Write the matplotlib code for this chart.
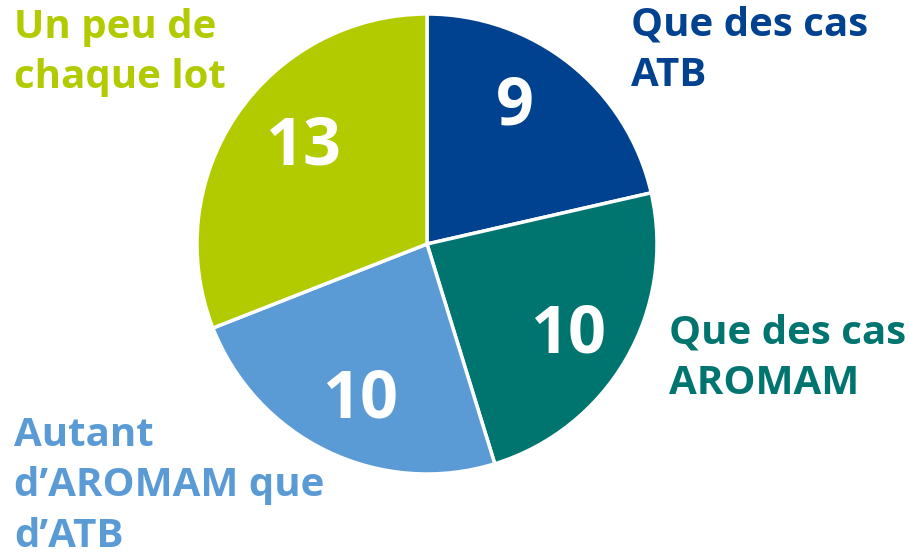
import matplotlib.pyplot as plt

# DATA
values = [9, 10, 10, 13]
categories = ["Que des cas\nATB", "Que des cas\nAROMAM",
              "Autant\nd\u2019AROMAM que\nd\u2019ATB", "Un peu de\nchaque lot"]
colors = ["#00428F", "#00756F", "#5B9BD5", "#B2CB00"]

plt.rcParams['font.family'] = ['Open Sans', 'DejaVu Sans']

fig = plt.figure(figsize=(9.09, 5.56), dpi=100)
ax = fig.add_axes([0, 0, 1, 1])

# PIE (pixel coords, y up)
wedges, _ = ax.pie(values, colors=colors, startangle=90, counterclock=False,
                   center=(427, 556 - 244), radius=230, frame=True,
                   wedgeprops=dict(edgecolor='white', linewidth=2.5))
ax.set_xlim(0, 909)
ax.set_ylim(0, 556)
ax.axis('off')

# VALUES INSIDE SLICES
value_pos = [(515, 107), (568, 335), (360, 400), (303, 147)]
for v, (x, y) in zip(values, value_pos):
    ax.text(x, 556 - y, str(v), color='white', fontsize=48, fontweight='bold',
            ha='center', va='center')

# CATEGORY LABELS
label_pos = [(631, 6), (669, 314), (14, 416), (14, 8)]
for c, col, (x, y) in zip(categories, colors, label_pos):
    ax.text(x, 556 - y, c, color=col, fontsize=29, fontweight='bold',
            ha='left', va='top', linespacing=1.38)

fig.savefig("out.png", dpi=100)
